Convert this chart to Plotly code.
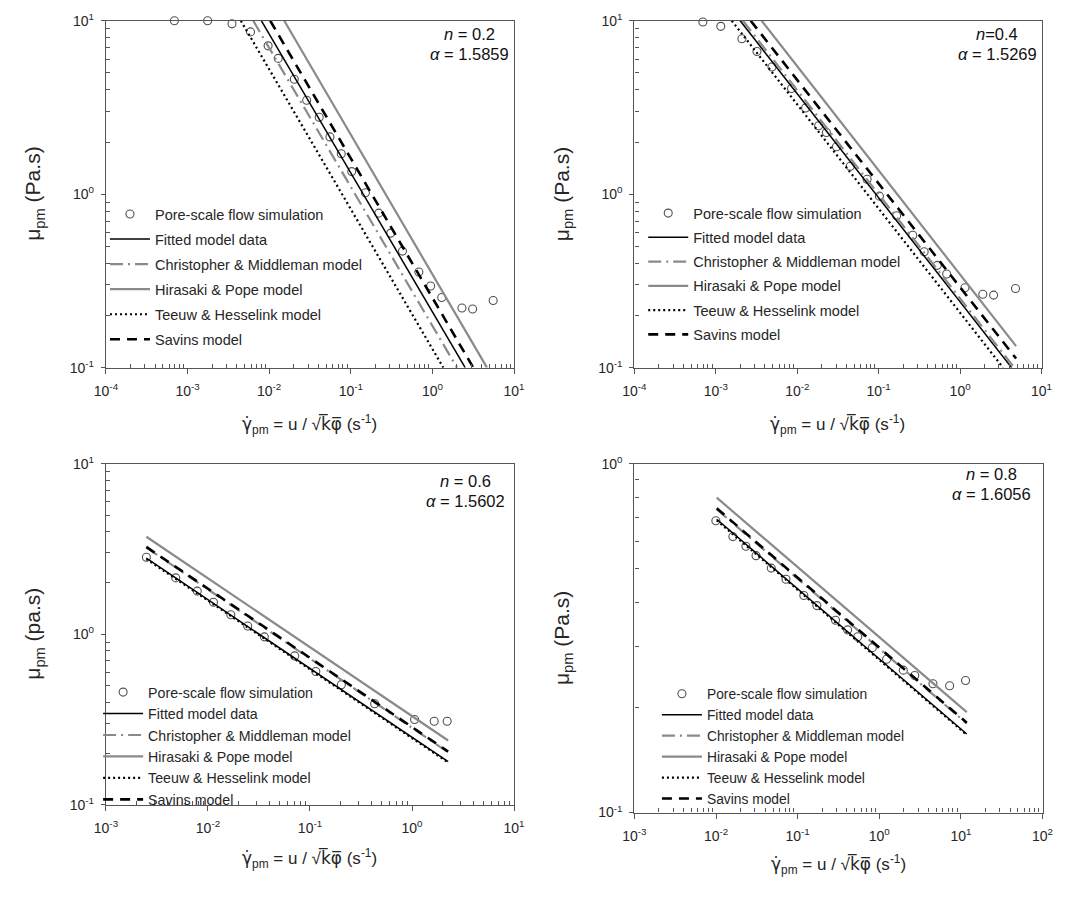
import plotly.graph_objects as go

W, H = 1077, 897

# ---------------- data ----------------
# Panel 1: n = 0.2
p1_sim_x = [6.9e-4, 1.76e-3, 3.5e-3, 5.9e-3, 9.7e-3, 0.0129, 0.0203, 0.0288, 0.041, 0.0555,
            0.0764, 0.1026, 0.151, 0.22, 0.309, 0.43, 0.682, 0.95, 1.30, 2.30, 3.11, 5.55]
p1_sim_y = [10.0, 10.0, 9.6, 8.63, 7.17, 6.07, 4.60, 3.48, 2.78, 2.14,
            1.71, 1.35, 1.02, 0.778, 0.597, 0.47, 0.356, 0.296, 0.254, 0.221, 0.218, 0.244]
p1_fit_x, p1_fit_y = [0.00804, 2.52], [10, 0.1]
p1_cm_x, p1_cm_y = [0.00638, 2.00], [10, 0.1]
p1_hp_x, p1_hp_y = [0.0153, 4.66], [10, 0.1]
p1_th_x, p1_th_y = [0.0045, 1.36], [10, 0.1]
p1_sv_x, p1_sv_y = [0.0103, 3.17], [10, 0.1]

# Panel 2: n = 0.4
p2_sim_x = [6.93e-4, 1.15e-3, 2.09e-3, 3.2e-3, 4.89e-3, 8.5e-3, 0.01265, 0.0183, 0.0228, 0.0303,
            0.0447, 0.0721, 0.102, 0.166, 0.262, 0.362, 0.524, 0.684, 1.146, 1.90, 2.58, 4.79]
p2_sim_y = [9.83, 9.29, 7.87, 6.65, 5.41, 4.07, 3.14, 2.48, 2.27, 1.88,
            1.45, 1.22, 0.975, 0.751, 0.580, 0.466, 0.389, 0.347, 0.289, 0.265, 0.262, 0.286]
p2_fit_x, p2_fit_y = [0.00199, 4.29], [10, 0.1]
p2_cm_x, p2_cm_y = [0.00215, 4.62], [10, 0.1]
p2_hp_x, p2_hp_y = [0.00365, 4.87], [10, 0.133]
p2_th_x, p2_th_y = [0.00157, 3.37], [10, 0.1]
p2_sv_x, p2_sv_y = [0.00268, 4.87], [10, 0.113]

# Panel 3: n = 0.6
p3_sim_x = [2.49e-3, 4.83e-3, 7.85e-3, 0.01132, 0.01675, 0.0245, 0.0357, 0.0708, 0.114, 0.203,
            0.43, 1.06, 1.65, 2.21]
p3_sim_y = [2.83, 2.14, 1.79, 1.54, 1.30, 1.117, 0.965, 0.746, 0.604, 0.506,
            0.391, 0.316, 0.309, 0.309]
p3_fit_x, p3_fit_y = [2.49e-3, 2.26], [2.79, 0.179]
p3_cm_x, p3_cm_y = [2.49e-3, 2.26], [3.22, 0.203]
p3_hp_x, p3_hp_y = [2.49e-3, 2.26], [3.73, 0.238]
p3_th_x, p3_th_y = [2.49e-3, 2.26], [2.76, 0.177]
p3_sv_x, p3_sv_y = [2.49e-3, 2.26], [3.25, 0.205]

# Panel 4: n = 0.8
p4_sim_x = [9.95e-3, 0.01607, 0.0232, 0.0309, 0.0475, 0.0719, 0.119, 0.172, 0.291, 0.409,
            0.545, 0.822, 1.23, 1.97, 2.72, 4.55, 7.28, 11.4]
p4_sim_y = [0.686, 0.618, 0.580, 0.545, 0.502, 0.4665, 0.419, 0.392, 0.356, 0.334,
            0.319, 0.297, 0.275, 0.256, 0.247, 0.234, 0.231, 0.239]
p4_fit_x, p4_fit_y = [0.0102, 11.8], [0.693, 0.168]
p4_cm_x, p4_cm_y = [0.0102, 11.8], [0.740, 0.180]
p4_hp_x, p4_hp_y = [0.0102, 11.8], [0.799, 0.194]
p4_th_x, p4_th_y = [0.0102, 11.8], [0.688, 0.167]
p4_sv_x, p4_sv_y = [0.0102, 11.8], [0.745, 0.181]

names = ["Pore-scale flow simulation", "Fitted model data", "Christopher & Middleman model",
         "Hirasaki & Pope model", "Teeuw & Hesselink model", "Savins model"]
n_labels = ["<i>n</i> = 0.2", "<i>n</i>=0.4", "<i>n</i> = 0.6", "<i>n</i> = 0.8"]
a_labels = ["<i>α</i> = 1.5859", "<i>α</i> = 1.5269", "<i>α</i> = 1.5602", "<i>α</i> = 1.6056"]
y_titles = ["μ<sub>pm</sub> (Pa.s)", "μ<sub>pm</sub> (Pa.s)", "μ<sub>pm</sub> (pa.s)", "μ<sub>pm</sub> (Pa.s)"]
x_title = ("<span style='font-family:DejaVu Sans'>γ̇</span><sub>pm</sub> = u / √"
           "<span style='font-family:DejaVu Sans'>k̅φ̅</span> (s<sup>-1</sup>)")

# ---------------- layout geometry (pixels) ----------------
FONT = "Arial, Liberation Sans, sans-serif"
TXT = "#262626"
AX = "#555555"
GRAY = "#8a8a8a"

# plot boxes: left, right, top, bottom (px)
boxes = [(96, 513, 11, 365), (636, 1052, 11, 365), (96, 513, 463, 811), (636, 1053, 463, 819)]
xranges = [(-4, 1), (-4, 1), (-3, 1), (-3, 2)]
yranges = [(-1, 1), (-1, 1), (-1, 1), (-1, 0)]
ann_pos = [(467, 25, 45), (1007, 25, 45), (463, 481, 501), (1001, 473, 494)]
# legend: left px, top px, group gap, font size
leg_pos = [(95, 192, 3.2, 14.5), (645, 191, 2.4, 14.5), (88, 680, 0, 14.2), (659, 682, 0, 13.8)]
xtitle_y = [423, 423, 866, 872]

panels = [
    (p1_sim_x, p1_sim_y, [(p1_fit_x, p1_fit_y), (p1_cm_x, p1_cm_y), (p1_hp_x, p1_hp_y), (p1_th_x, p1_th_y), (p1_sv_x, p1_sv_y)]),
    (p2_sim_x, p2_sim_y, [(p2_fit_x, p2_fit_y), (p2_cm_x, p2_cm_y), (p2_hp_x, p2_hp_y), (p2_th_x, p2_th_y), (p2_sv_x, p2_sv_y)]),
    (p3_sim_x, p3_sim_y, [(p3_fit_x, p3_fit_y), (p3_cm_x, p3_cm_y), (p3_hp_x, p3_hp_y), (p3_th_x, p3_th_y), (p3_sv_x, p3_sv_y)]),
    (p4_sim_x, p4_sim_y, [(p4_fit_x, p4_fit_y), (p4_cm_x, p4_cm_y), (p4_hp_x, p4_hp_y), (p4_th_x, p4_th_y), (p4_sv_x, p4_sv_y)]),
]

line_styles = [
    dict(color="#000000", width=1.5, dash="solid"),
    dict(color=GRAY, width=2.2, dash="13px,5px,2px,5px"),
    dict(color=GRAY, width=2.2, dash="solid"),
    dict(color="#000000", width=2.2, dash="2px,3px"),
    dict(color="#000000", width=2.6, dash="10px,7px"),
]

fig = go.Figure()
layout = dict(width=W, height=H, margin=dict(l=0, r=0, t=0, b=0),
              paper_bgcolor="white", plot_bgcolor="white", showlegend=True,
              font=dict(family=FONT, color=TXT))
annotations = []


def sup_label(k):
    return "10<sup>%d</sup>" % k


for i, (sx, sy, lines) in enumerate(panels):
    sfx = "" if i == 0 else str(i + 1)
    xa, ya = "x" + sfx, "y" + sfx
    lg = "legend" + sfx
    fig.add_trace(go.Scatter(x=sx, y=sy, mode="markers", name=names[0], xaxis=xa, yaxis=ya,
                             legend=lg, legendgroup="g0_%d" % i,
                             marker=dict(symbol="circle-open", size=8, color="#505050",
                                         line=dict(width=1.1, color="#505050")),
                             cliponaxis=False))
    for j, ((lx, ly), st) in enumerate(zip(lines, line_styles)):
        fig.add_trace(go.Scatter(x=lx, y=ly, mode="lines", name=names[j + 1], xaxis=xa, yaxis=ya,
                                 legend=lg, legendgroup="g%d_%d" % (j + 1, i), line=st))
    l, r, t, b = boxes[i]
    x0, x1 = xranges[i]
    y0, y1 = yranges[i]
    minor_x = [m * 10 ** k for k in range(x0, x1) for m in range(2, 10)]
    minor_y = [m * 10 ** k for k in range(y0, y1) for m in range(2, 10)]
    common = dict(type="log", showgrid=False, zeroline=False, showline=True, linecolor=AX,
                  linewidth=1.3, mirror=True, ticks="outside", ticklen=5, tickwidth=1.2,
                  tickcolor=AX, tickfont=dict(size=14, color=TXT, family=FONT))
    layout["xaxis" + sfx] = dict(common, domain=[l / W, r / W], range=[x0, x1],
                                 anchor=ya, tickvals=[10 ** k for k in range(x0, x1 + 1)],
                                 ticktext=[sup_label(k) for k in range(x0, x1 + 1)],
                                 ticklabelstandoff=5,
                                 minor=dict(tickvals=minor_x, ticks="inside", ticklen=4,
                                            tickcolor=AX, tickwidth=1))
    layout["yaxis" + sfx] = dict(common, domain=[1 - b / H, 1 - t / H], range=[y0, y1],
                                 anchor=xa, tickvals=[10 ** k for k in range(y0, y1 + 1)],
                                 ticktext=[sup_label(k) for k in range(y0, y1 + 1)],
                                 ticklen=4, ticklabelstandoff=4,
                                 minor=dict(tickvals=minor_y, ticks="inside", ticklen=4,
                                            tickcolor=AX, tickwidth=1))
    lx_, ly_, gap, lfs = leg_pos[i]
    layout[lg] = dict(x=lx_ / W, y=1 - ly_ / H, xanchor="left", yanchor="top",
                      bgcolor="rgba(0,0,0,0)", borderwidth=0, traceorder="grouped",
                      tracegroupgap=gap, font=dict(size=lfs, color=TXT, family=FONT),
                      itemwidth=40)
    ax_, ny, ay = ann_pos[i]
    annotations.append(dict(xref="paper", yref="paper", x=ax_ / W, y=1 - ny / H, text=n_labels[i],
                            showarrow=False, xanchor="center", yanchor="middle",
                            font=dict(size=16.5, color="#111111", family=FONT)))
    annotations.append(dict(xref="paper", yref="paper", x=ax_ / W, y=1 - ay / H, text=a_labels[i],
                            showarrow=False, xanchor="center", yanchor="middle",
                            font=dict(size=16.5, color="#111111", family=FONT)))
    # axis titles
    annotations.append(dict(xref="paper", yref="paper", x=((l + r) / 2) / W, y=1 - xtitle_y[i] / H,
                            text=x_title, showarrow=False, xanchor="center", yanchor="middle",
                            font=dict(size=17, color=TXT, family=FONT)))
    ytx = 23 if i % 2 == 0 else 563
    annotations.append(dict(xref="paper", yref="paper", x=ytx / W, y=1 - ((t + b) / 2) / H,
                            text=y_titles[i], showarrow=False, textangle=-90,
                            xanchor="center", yanchor="middle",
                            font=dict(size=21, color=TXT, family=FONT)))

layout["annotations"] = annotations
fig.update_layout(**layout)
fig.write_html("out.html")
